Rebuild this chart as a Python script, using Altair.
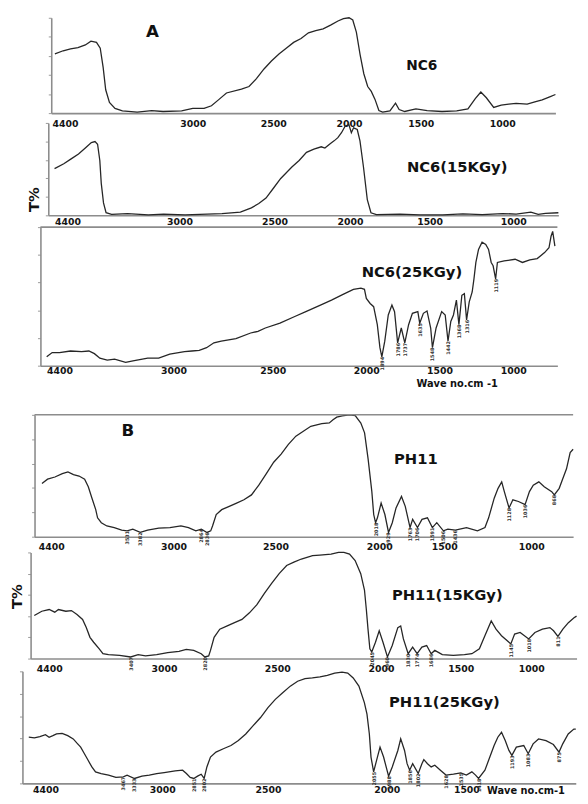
import altair as alt
import pandas as pd

FONT = "DejaVu Sans"
W = 576
TICKS6 = [4400, 3000, 2500, 2000, 1500, 1000]
TICKS5 = [4400, 3000, 2500, 2000, 1500]
YT = [0, 20, 40, 60, 80, 100]

# ---------------- Panel A : NC6 ----------------
a1_wave = [4510, 4420, 4339, 4258, 4177, 4116, 4055, 4014, 3982, 3954, 3913, 3852, 3771, 3609, 3450, 3325,
           3122, 3000, 2930, 2884, 2837, 2791, 2698, 2651, 2605, 2558, 2512, 2463, 2415, 2366, 2317, 2268,
           2220, 2171, 2122, 2073, 2037, 2000, 1974, 1949, 1923, 1897, 1870, 1845, 1819, 1792, 1766, 1715,
           1676, 1651, 1612, 1534, 1461, 1370, 1280, 1211, 1166, 1132, 1098, 1053, 1007, 961, 916, 848,
           801, 756, 710, 675]
a1_T = [62.1, 65.4, 67.5, 68.8, 71.5, 75.5, 74.2, 68.1, 48.0, 24.5, 11.1, 5.0, 2.3, 1.0, 2.6, 1.7,
        2.3, 5.0, 5.0, 7.7, 14.4, 21.1, 25.2, 27.9, 36.2, 46.3, 54.7, 62.1, 68.1, 74.2, 78.2, 84.2,
        86.6, 88.3, 92.3, 96.6, 99.0, 100, 97.7, 84.9, 61.4, 41.3, 27.9, 22.8, 14.4, 2.7, 1.0, 2.3,
        10.4, 3.7, 1.7, 4.4, 2.7, 1.7, 2.3, 4.4, 15.1, 22.1, 16.1, 6.0, 8.4, 9.4, 10.1, 9.4,
        11.7, 13.8, 17.1, 19.5]

a2_wave = [4561, 4446, 4354, 4262, 4170, 4102, 4056, 4024, 3996, 3978, 3950, 3918, 3849, 3650, 3390, 3200,
           2971, 2777, 2680, 2622, 2583, 2545, 2506, 2459, 2385, 2337, 2288, 2239, 2190, 2166, 2129, 2105,
           2080, 2056, 2032, 2007, 1991, 1977, 1954, 1937, 1915, 1891, 1868, 1834, 1686, 1560, 1422, 1301,
           1185, 1064, 982, 894, 850, 806, 729]
a2_T = [50.5, 55.8, 61.1, 66.4, 73.5, 78.8, 79.9, 77.0, 59.4, 34.6, 13.4, 2.8, 1.1, 1.8, 0.4, 1.2,
        0.4, 1.8, 3.5, 8.1, 12.7, 18.7, 29.3, 39.9, 52.3, 59.4, 68.2, 71.7, 74.2, 72.8, 77.7, 80.6,
        84.1, 89.4, 96.5, 98.2, 89.4, 94.7, 92.9, 80.6, 52.3, 17.0, 2.8, 0.7, 1.3, 0.6, 0.4, 1.5,
        0.8, 1.9, 1.4, 3.5, 1.1, 2.1, 2.8]

a3_wave = [4558, 4490, 4400, 4265, 4129, 4039, 3971, 3904, 3813, 3723, 3587, 3497, 3316, 3181, 3045, 2944,
           2907, 2870, 2833, 2796, 2759, 2685, 2611, 2574, 2537, 2461, 2382, 2323, 2245, 2186, 2127, 2069,
           2029, 2010, 2000, 1974, 1950, 1925, 1907, 1894, 1874, 1850, 1825, 1807, 1786, 1761, 1737, 1711,
           1685, 1648, 1635, 1610, 1585, 1560, 1548, 1523, 1485, 1461, 1442, 1423, 1405, 1385, 1368, 1348,
           1331, 1316, 1298, 1278, 1266, 1253, 1235, 1211, 1186, 1167, 1149, 1136, 1119, 1107, 1061, 987,
           937, 887, 837, 787, 757, 743, 732, 717]
a3_T = [6.4, 9.5, 9.5, 10.6, 10.2, 10.6, 8.7, 5.4, 4.0, 4.7, 2.4, 3.5, 5.4, 5.4, 8.3, 10.2,
        10.6, 11.1, 13.0, 16.5, 17.7, 19.6, 23.6, 24.8, 27.2, 30.7, 35.5, 39.0, 43.7, 47.3, 51.3, 55.1,
        56.0, 55.1, 48.5, 44.9, 42.6, 29.6, 13.0, 6.4, 17.7, 36.6, 43.7, 39.0, 16.5, 27.2, 16.5, 29.6,
        37.8, 39.0, 30.7, 37.8, 39.5, 27.2, 13.0, 27.2, 39.0, 36.6, 17.7, 31.9, 36.6, 47.3, 29.6, 50.8,
        52.0, 33.1, 46.1, 53.2, 62.6, 74.5, 83.9, 89.1, 87.5, 83.9, 74.5, 72.1, 62.6, 74.5, 75.6, 76.8,
        74.5, 76.4, 77.3, 81.6, 85.1, 93.4, 96.9, 86.3]
a3_peak_w = [1894, 1786, 1737, 1635, 1548, 1442, 1368, 1316, 1119]
a3_peak_T = [6.4, 16.5, 16.5, 30.7, 13.0, 17.7, 29.6, 33.1, 62.6]

# ---------------- Panel B : PH11 ----------------
b1_wave = [4506, 4442, 4358, 4273, 4209, 4146, 4082, 4018, 3976, 3934, 3891, 3870, 3827, 3764, 3679, 3594,
           3531, 3467, 3382, 3297, 3170, 3042, 2964, 2927, 2891, 2864, 2836, 2818, 2809, 2791, 2764, 2727,
           2691, 2655, 2618, 2582, 2545, 2509, 2473, 2438, 2402, 2366, 2330, 2277, 2241, 2223, 2205, 2179,
           2143, 2116, 2089, 2071, 2054, 2036, 2027, 2018, 2009, 1986, 1957, 1929, 1900, 1871, 1829, 1800,
           1763, 1743, 1706, 1671, 1629, 1591, 1557, 1506, 1479, 1436, 1372, 1309, 1266, 1245, 1213, 1191,
           1170, 1155, 1128, 1106, 1074, 1036, 1011, 989, 957, 926, 883, 868, 840, 819, 798, 777, 760]
b1_T = [43.7, 47.2, 49.0, 51.7, 53.1, 50.9, 49.8, 47.2, 41.0, 31.6, 22.2, 15.5, 11.5, 8.8, 7.5, 5.4,
        4.8, 6.2, 3.5, 5.4, 7.0, 7.5, 8.8, 7.5, 4.8, 6.2, 3.5, 4.8, 8.8, 18.2, 22.2, 24.9,
        27.6, 30.3, 34.3, 42.3, 51.7, 61.1, 67.8, 75.8, 82.5, 86.6, 90.6, 92.7, 93.3, 95.9, 98.1, 99.2,
        100, 99.4, 93.3, 85.2, 63.8, 37.0, 18.2, 11.5, 15.5, 27.6, 18.2, 3.5, 11.5, 23.6, 33.0, 24.9,
        7.5, 14.2, 7.5, 14.2, 15.5, 7.5, 11.5, 4.8, 6.2, 5.4, 7.5, 4.8, 7.5, 15.5, 31.6, 39.7,
        45.0, 37.0, 23.6, 30.3, 28.9, 26.3, 37.0, 42.3, 45.0, 41.0, 37.0, 34.3, 39.7, 47.7, 55.7, 69.1, 71.8]
b1_peak_w = [3531, 3382, 2864, 2836, 2018, 1929, 1763, 1706, 1591, 1506, 1436, 1128, 1036, 868]
b1_peak_T = [4.8, 3.5, 6.2, 3.5, 11.5, 3.5, 7.5, 7.5, 7.5, 4.8, 5.4, 23.6, 26.3, 34.3]

b2_wave = [4581, 4490, 4400, 4332, 4287, 4197, 4129, 4061, 3993, 3948, 3903, 3858, 3790, 3745, 3677, 3542,
           3407, 3316, 3226, 3090, 2984, 2934, 2902, 2869, 2836, 2820, 2803, 2795, 2779, 2754, 2721, 2689,
           2656, 2623, 2590, 2557, 2525, 2491, 2455, 2420, 2384, 2330, 2295, 2241, 2205, 2179, 2152, 2125,
           2098, 2080, 2071, 2063, 2054, 2045, 2027, 2009, 1988, 1960, 1930, 1895, 1877, 1860, 1830, 1802,
           1774, 1744, 1714, 1686, 1663, 1616, 1547, 1474, 1421, 1368, 1329, 1284, 1250, 1211, 1145, 1118,
           1079, 1018, 974, 921, 868, 842, 811, 776, 737, 697, 679]
b2_T = [40.6, 44.6, 46.2, 43.7, 46.2, 44.6, 45.2, 41.5, 36.9, 29.2, 20.0, 15.4, 9.2, 4.6, 3.7, 3.1,
        1.5, 3.7, 2.5, 3.7, 5.5, 6.8, 8.6, 7.7, 4.6, 1.5, 2.5, 7.7, 20.0, 27.7, 30.8, 33.8,
        36.9, 43.1, 50.8, 61.5, 70.8, 80.0, 87.7, 90.8, 93.8, 96.9, 97.5, 98.5, 100, 100, 98.5, 92.3,
        80.0, 64.6, 46.2, 27.7, 9.2, 6.2, 15.4, 26.2, 15.4, 1.5, 12.3, 29.2, 30.8, 18.5, 4.6, 10.8,
        4.6, 10.8, 12.3, 4.6, 7.7, 3.7, 3.1, 3.7, 4.6, 9.2, 21.5, 35.4, 27.7, 21.5, 13.8, 23.1,
        24.6, 18.5, 24.6, 27.7, 29.2, 26.2, 20.9, 27.7, 33.8, 38.5, 40.0]
b2_peak_w = [3407, 2820, 2045, 1960, 1830, 1774, 1686, 1145, 1018, 811]
b2_peak_T = [1.5, 1.5, 6.2, 1.5, 4.6, 4.6, 4.6, 13.8, 18.5, 20.9]

b3_wave = [4600, 4533, 4467, 4400, 4356, 4311, 4267, 4200, 4133, 4067, 4022, 3978, 3933, 3889, 3844, 3800,
           3733, 3644, 3556, 3467, 3422, 3333, 3244, 3156, 3067, 2991, 2939, 2904, 2886, 2868, 2851, 2833,
           2816, 2802, 2789, 2772, 2746, 2711, 2675, 2640, 2605, 2570, 2535, 2500, 2469, 2438, 2406, 2375,
           2344, 2313, 2281, 2250, 2219, 2188, 2164, 2141, 2117, 2094, 2083, 2073, 2066, 2055, 2039, 2028,
           2013, 1988, 1965, 1930, 1912, 1888, 1872, 1856, 1837, 1802, 1779, 1767, 1744, 1721, 1698, 1663,
           1628, 1581, 1535, 1500, 1463, 1438, 1418, 1375, 1350, 1313, 1288, 1263, 1238, 1213, 1193, 1163,
           1113, 1083, 1050, 1013, 963, 913, 875, 850, 813, 775, 762]
b3_T = [41.2, 40.6, 41.8, 43.5, 41.2, 42.6, 44.1, 44.7, 42.6, 39.7, 35.9, 32.4, 26.5, 20.6, 14.7, 10.3,
        8.8, 7.4, 5.3, 5.9, 7.4, 4.4, 6.5, 7.4, 8.8, 9.7, 11.2, 11.8, 8.8, 5.3, 4.4, 6.5,
        8.2, 4.4, 14.7, 23.5, 27.9, 30.9, 33.8, 38.2, 44.1, 51.5, 58.8, 67.6, 75.0, 80.9, 86.8, 91.2,
        93.5, 94.1, 95.0, 96.5, 98.5, 99.4, 98.5, 94.1, 86.8, 72.1, 61.8, 44.1, 23.5, 10.3, 23.5, 32.4,
        23.5, 6.5, 14.7, 29.4, 39.7, 29.4, 17.6, 11.8, 17.6, 8.8, 17.6, 21.2, 17.6, 14.7, 16.2, 11.8,
        7.4, 8.2, 9.4, 7.4, 10.3, 7.4, 4.4, 11.8, 20.6, 33.8, 41.2, 45.6, 38.2, 29.4, 25.0, 32.4,
        33.8, 26.5, 35.3, 39.7, 38.2, 34.7, 27.9, 35.3, 44.1, 48.5, 48.5]
b3_peak_w = [3467, 3333, 2851, 2802, 2055, 1988, 1856, 1802, 1628, 1535, 1418, 1193, 1083, 875]
b3_peak_T = [5.9, 4.4, 4.4, 4.4, 10.3, 6.5, 11.8, 8.8, 7.4, 9.4, 4.4, 25.0, 26.5, 27.9]


def text_layer(txt, x, y, size, angle=0):
    return alt.Chart(pd.DataFrame({"t": [txt]})).mark_text(
        font=FONT, fontWeight="bold", fontSize=size, color="#111111",
        align="center", baseline="middle", angle=angle,
    ).encode(text="t:N", x=alt.value(x), y=alt.value(y))


def panel(wave, T, dom, rng, h, ticks, pad, texts, peaks=None, top_line=False):
    xs = alt.Scale(domain=dom, range=rng, nice=False, zero=False)
    ys = alt.Scale(domain=[0, 100], nice=False, zero=False)
    xax = alt.Axis(values=ticks, format="d", title=None, grid=False, ticks=False,
                   domainColor="#8c8c8c", domainWidth=1.6, labelFont=FONT,
                   labelFontWeight="bold", labelFontSize=9.5, labelColor="#141414",
                   labelPadding=pad, labelOverlap=False, labelFlush=False)
    yax = alt.Axis(offset=-rng[0], values=YT, labels=False, title=None, grid=False,
                   tickSize=3, tickColor="#9a9a9a", domainColor="#8c8c8c",
                   domainWidth=1.6, minExtent=0)
    df = pd.DataFrame({"w": wave, "T": T})
    layers = [alt.Chart(df).mark_line(color="#262626", strokeWidth=1.3).encode(
        x=alt.X("w:Q", scale=xs, axis=xax),
        y=alt.Y("T:Q", scale=ys, axis=yax),
    )]
    if top_line:
        layers.append(alt.Chart(pd.DataFrame({"a": [dom[0]], "b": [dom[-1]]})).mark_rule(
            color="#8c8c8c", strokeWidth=1.6).encode(
            x=alt.X("a:Q", scale=xs, axis=xax), x2="b:Q", y=alt.value(0)))
    if peaks is not None:
        pw, pt = peaks
        pdf = pd.DataFrame({"w": pw, "T": pt, "lab": [str(v) for v in pw]})
        layers.append(alt.Chart(pdf).mark_text(
            font=FONT, fontSize=5, fontWeight="bold", color="#333333",
            angle=270, align="right", baseline="middle").encode(
            x=alt.X("w:Q", scale=xs, axis=xax),
            y=alt.Y("T:Q", scale=ys, axis=yax),
            text="lab:N"))
    for t in texts:
        layers.append(text_layer(*t))
    return alt.layer(*layers).properties(width=W, height=h)


def spacer(h):
    return alt.Chart(pd.DataFrame({"v": [0]})).mark_point(opacity=0).encode(
        x=alt.X("v:Q", axis=None), y=alt.Y("v:Q", axis=None)).properties(width=W, height=h)


A1 = panel(a1_wave, a1_T, [4550, 4400, 3000, 2500, 2000, 1500, 1000, 675],
           [44, 58, 188, 270, 347, 420, 503, 557], 97, TICKS6, 6,
           [("A", 147, 15, 17), ("NC6", 421, 49, 14)])
A2 = panel(a2_wave, a2_T, [4639, 4400, 3000, 2500, 2000, 1500, 1000, 729],
           [41, 60.5, 174.6, 271.2, 347.9, 429, 514, 560], 94, TICKS6, 1,
           [("NC6(15KGy)", 457, 45, 15), ("T%", 27, 78, 15, 270)])
A3 = panel(a3_wave, a3_T, [4635, 4400, 3000, 2500, 2000, 1500, 1000, 700],
           [33, 52.4, 168.3, 269.3, 364.6, 439, 514, 559], 141, TICKS6, 0,
           [("NC6(25KGy)", 411, 46, 15), ("Wave no.cm -1", 457, 160, 10)],
           peaks=(a3_peak_w, a3_peak_T), top_line=True)
B1 = panel(b1_wave, b1_T, [4591, 4400, 3000, 2500, 2000, 1500, 1000, 760],
           [27, 44, 168.5, 272.2, 377.8, 443.8, 532.5, 575], 124, TICKS6, 5,
           [("B", 122, 17, 17), ("PH11", 415, 45, 15)],
           peaks=(b1_peak_w, b1_peak_T), top_line=True)
B2 = panel(b2_wave, b2_T, [4626, 4400, 3000, 2500, 2000, 1500, 1000, 679],
           [23, 41.9, 158.8, 274, 379.6, 460.7, 532.4, 578.5], 108, TICKS6, 5,
           [("PH11(15KGy)", 447, 43, 15), ("T%", 9, 45, 15, 270)],
           peaks=(b2_peak_w, b2_peak_T))
B3 = panel(b3_wave, b3_T, [4676, 4400, 3000, 2500, 2000, 1500, 762],
           [14.7, 38.1, 157, 264.5, 385.3, 466.4, 577.7], 114, TICKS5, 1,
           [("PH11(25KGy)", 444, 31, 15), ("Wave no.cm-1", 527, 122, 10)],
           peaks=(b3_peak_w, b3_peak_T))

chart = alt.vconcat(
    A1, spacer(10), A2, spacer(12), A3, spacer(50), B1, spacer(16), B2, spacer(13), B3,
    spacing=0, bounds="flush",
).properties(padding=0).configure_view(strokeOpacity=0)

chart.save("out.html", embed_options={"renderer": "svg", "actions": False})
